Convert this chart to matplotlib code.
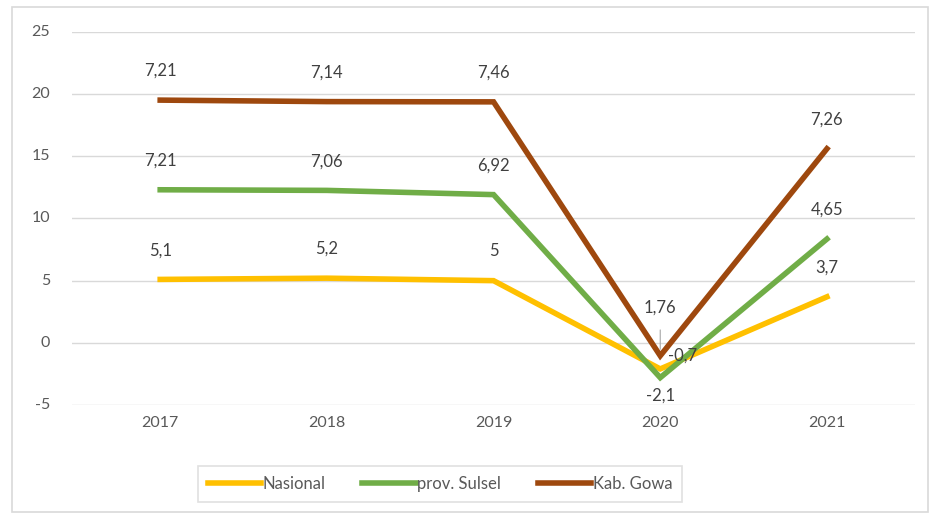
import matplotlib
matplotlib.use("Agg")
import matplotlib.pyplot as plt
import matplotlib.transforms as mtransforms
from matplotlib.patches import Rectangle

years = ["2017", "2018", "2019", "2020", "2021"]
nasional = [5.1, 5.2, 5.0, -2.1, 3.7]
sulsel = [7.21, 7.06, 6.92, -0.7, 4.65]
gowa = [7.21, 7.14, 7.46, 1.76, 7.26]
series_names = ["Nasional", "prov. Sulsel", "Kab. Gowa"]
colors = ["#FFC000", "#70AD47", "#9E480E"]
yticks = [-5, 0, 5, 10, 15, 20, 25]

plt.rcParams['font.family'] = ['Lato', 'DejaVu Sans']
plt.rcParams['axes.unicode_minus'] = False
txt = "#404040"

fig = plt.figure(figsize=(9.33, 5.15), dpi=100)
ax = fig.add_axes([0.077, 0.2136, 0.904, 0.7243])

x = list(range(len(years)))
data = [nasional, sulsel, gowa]
cum = []
base = [0.0] * len(years)
for s in data:
    base = [b + v for b, v in zip(base, s)]
    cum.append(base)

for i, (name, c) in enumerate(zip(series_names, colors)):
    ax.plot(x, cum[i], color=c, lw=4, label=name, solid_joinstyle='miter', zorder=3)

def fmt(v):
    return ("%g" % v).replace(".", ",")

for i in range(3):
    for j in range(len(years)):
        v = data[i][j]
        y = cum[i][j]
        if j == 3:
            if i == 0:
                ax.annotate(fmt(v), (x[j], y), xytext=(0, -19), textcoords='offset points',
                            ha='center', va='center', fontsize=12, color=txt, zorder=4)
            elif i == 1:
                ax.annotate(fmt(v), (x[j], y), xytext=(16, 16), textcoords='offset points',
                            ha='center', va='center', fontsize=12, color=txt, zorder=4)
            else:
                ax.annotate(fmt(v), (x[j], y), xytext=(0, 35), textcoords='offset points',
                            ha='center', va='center', fontsize=12, color=txt, zorder=4)
                ax.annotate("", (x[j], y + 0.3), xytext=(x[j], y + 2.3),
                            arrowprops=dict(arrowstyle='-', color='#A6A6A6', lw=0.8), zorder=2)
        else:
            ax.annotate(fmt(v), (x[j], y), xytext=(0, 21), textcoords='offset points',
                        ha='center', va='center', fontsize=12, color=txt, zorder=4)

ax.set_xlim(-0.53, 4.53)
ax.set_ylim(-5, 25)
ax.set_yticks(yticks)
ax.set_yticklabels([])
ax.set_xticks(x)
ax.set_xticklabels(years)
ax.grid(axis='y', color='#D9D9D9', lw=1)
ax.set_axisbelow(True)
for sp in ax.spines.values():
    sp.set_visible(False)
ax.tick_params(length=0, labelsize=11.5, labelcolor='#595959')
ax.tick_params(axis='x', pad=8)

trans = mtransforms.blended_transform_factory(ax.transAxes, ax.transData)
for v in yticks:
    ax.text(-0.026, v, str(v), transform=trans, ha='right', va='center',
            fontsize=11.5, color='#595959')

leg = fig.legend(loc='center', bbox_to_anchor=(440/933, 1 - 484/515), ncol=3,
                 frameon=True, fontsize=12, handlelength=3.2, handletextpad=0.1,
                 columnspacing=2.2, borderpad=0.6, fancybox=False)
leg.get_frame().set_edgecolor('#D9D9D9')
leg.get_frame().set_linewidth(1.2)
for t in leg.get_texts():
    t.set_color('#595959')

fig.patches.append(Rectangle((12/933, 3/515), 916/933, 505/515, transform=fig.transFigure,
                             fill=False, edgecolor='#D9D9D9', lw=1.2))

fig.savefig("out.png", dpi=100)
